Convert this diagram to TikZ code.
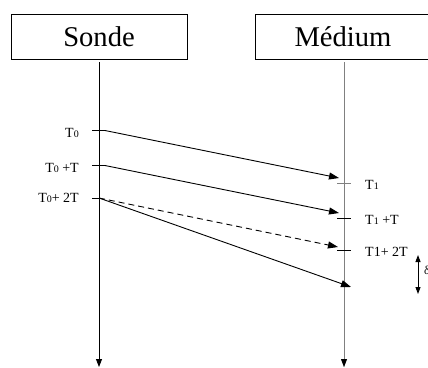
\documentclass[tikz,border=0pt]{standalone}
\usepackage{fontspec}
\setmainfont{Liberation Serif}
\usetikzlibrary{arrows.meta}
\definecolor{lifegray}{gray}{0.5}
\newcommand{\sbs}[1]{{\fontsize{10}{10}\selectfont #1}}
\begin{document}
\begin{tikzpicture}[x=1pt,y=-1pt,
  actor/.style={draw,line width=0.6pt,minimum height=45pt,inner sep=0pt,font=\fontsize{28.6}{30}\selectfont},
  lbl/.style={inner sep=0pt,font=\fontsize{14}{14}\selectfont},
  life/.style={line width=0.9pt,-{Triangle[length=8pt,width=6pt]}},
  msg/.style={line width=0.9pt,-{Triangle[length=10pt,width=7pt]}},
  tick/.style={line width=0.9pt}]
\useasboundingbox (0,0) rectangle (428,367);
% actors
\node[actor,minimum width=176pt] (sonde) at (99,36.5) {Sonde};
\node[actor,minimum width=190pt] (medium) at (350,36.5) {};
\node[inner sep=0pt,font=\fontsize{28.6}{30}\selectfont] (mediumtxt) at (343,36.5) {Médium};
% lifelines
\coordinate (s0) at (99,62);
\coordinate (s1) at (99,367);
\coordinate (m0) at (344,62);
\coordinate (m1) at (344,367);
\draw[life,lifegray] (m0) -- (m1);
\fill (344,367) -- (341,359) -- (347,359) -- cycle;
\draw[life] (s0) -- (s1);
% left ticks
\coordinate (a0) at (92,130.5);  \coordinate (a0e) at (105,130.5);
\coordinate (b0) at (92,165.5);  \coordinate (b0e) at (105,165.5);
\coordinate (c0) at (92,198);    \coordinate (c0e) at (99,198);
\draw[tick] (a0) -- (a0e);
\draw[tick] (b0) -- (b0e);
\draw[tick] (c0) -- (c0e);
% right ticks
\coordinate (r1a) at (337,183); \coordinate (r1b) at (351,183);
\coordinate (r2a) at (337,218); \coordinate (r2b) at (351,218);
\coordinate (r3a) at (337,250); \coordinate (r3b) at (351,250);
\draw[tick,lifegray] (r1a) -- (r1b);
\draw[tick] (r2a) -- (r2b);
\draw[tick] (r3a) -- (r3b);
% message ends
\coordinate (e1) at (339,178);
\coordinate (e2) at (339,213);
\coordinate (e3) at (338,247);
\coordinate (e4) at (351,287);
\draw[msg] (a0e) -- (e1);
\draw[msg] (b0e) -- (e2);
\draw[msg,dashed,dash pattern=on 6pt off 4pt] (c0e) -- (e3);
\draw[msg] (c0e) -- (e4);
% labels
\node[lbl,anchor=east] (l0) at (79,133) {T\sbs{0}};
\node[lbl,anchor=east] (l1) at (79,168) {T\sbs{0} +T};
\node[lbl,anchor=east] (l2) at (79,198) {T\sbs{0}+ 2T};
\node[lbl,anchor=west] (r1) at (365,185) {T\sbs{1}};
\node[lbl,anchor=west] (r2) at (365,220) {T\sbs{1} +T};
\node[lbl,anchor=west] (r3) at (365,252) {T1+ 2T};
% delta
\coordinate (d0) at (418,255);
\coordinate (d1) at (418,294);
\draw[line width=0.9pt,{Triangle[length=7pt,width=5pt]}-{Triangle[length=7pt,width=5pt]}] (d0) -- (d1);
\node[lbl,anchor=west,font=\fontsize{12}{12}\selectfont] (dl) at (424,270) {δ};
\end{tikzpicture}
\end{document}
